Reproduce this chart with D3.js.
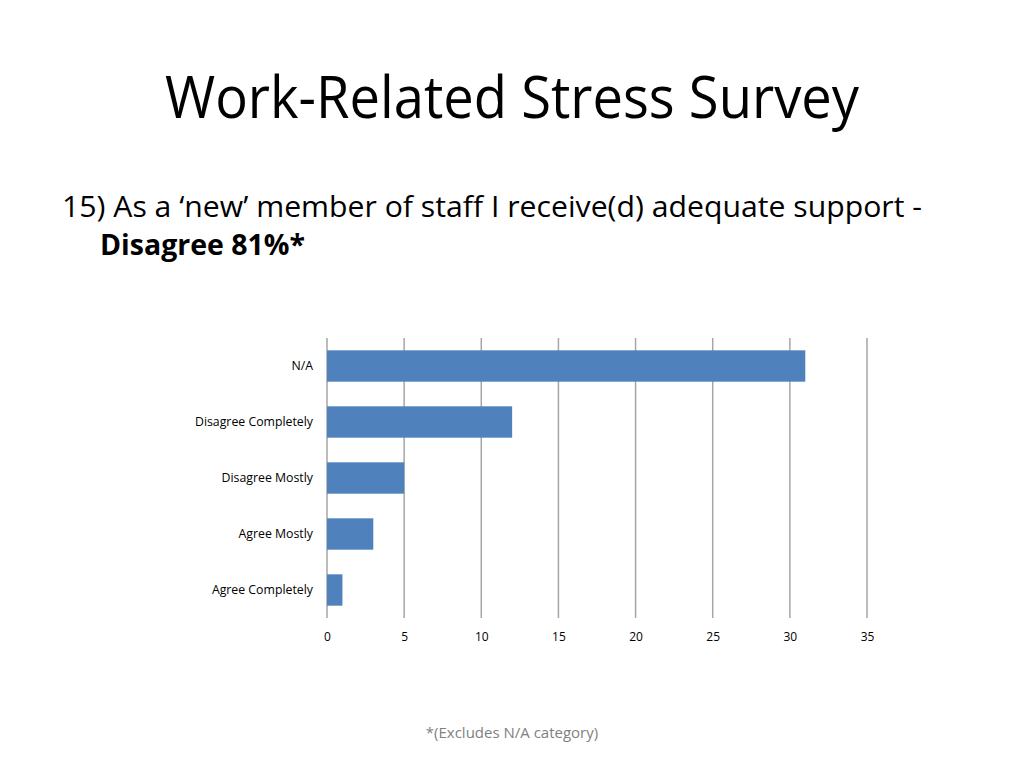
<!DOCTYPE html>
<html>
<head>
<meta charset="utf-8">
<script src="https://cdn.jsdelivr.net/npm/d3@7"></script>
<style>
	body { margin: 0; background: #fff; }
	svg text { font-family: "Open Sans", "Noto Sans", sans-serif; }
</style>
</head>
<body>
<svg id="slide" width="1024" height="768"></svg>
<script>
// chart values
var categories = ["N/A", "Disagree Completely", "Disagree Mostly", "Agree Mostly", "Agree Completely"];
var counts = [31, 12, 5, 3, 1];
var tickValues = [0, 5, 10, 15, 20, 25, 30, 35];

var svg = d3.select("svg#slide");

// slide title + question text
svg.append("text")
	.attr("x", 512).attr("y", 118)
	.attr("text-anchor", "middle")
	.attr("font-size", 58)
	.attr("textLength", 694).attr("lengthAdjust", "spacingAndGlyphs")
	.attr("fill", "#000")
	.text("Work-Related Stress Survey");

svg.append("text")
	.attr("x", 62).attr("y", 217)
	.attr("font-size", 29)
	.attr("textLength", 860).attr("lengthAdjust", "spacingAndGlyphs")
	.attr("fill", "#000")
	.text("15) As a \u2018new\u2019 member of staff I receive(d) adequate support -");

svg.append("text")
	.attr("x", 100).attr("y", 255)
	.attr("font-size", 29)
	.attr("font-weight", "bold")
	.attr("textLength", 205).attr("lengthAdjust", "spacingAndGlyphs")
	.attr("fill", "#000")
	.text("Disagree 81%*");

// plot area (don't call these top/left, window.top is read-only)
var plotLeft = 327, plotRight = 867, plotTop = 338, plotBottom = 618;

var x = d3.scaleLinear().domain([0, 35]).range([plotLeft, plotRight]);
var y = d3.scaleBand().domain(categories).range([plotTop, plotBottom]).paddingInner(0.44).paddingOuter(0.22);

var plot = svg.append("g").attr("class", "plot");

plot.selectAll("line.grid")
	.data(tickValues)
	.enter().append("line")
	.attr("class", "grid")
	.attr("x1", function(d) { return x(d); })
	.attr("x2", function(d) { return x(d); })
	.attr("y1", plotTop).attr("y2", plotBottom)
	.attr("stroke", "#a6a6a6")
	.attr("stroke-width", 1.5);

plot.selectAll("rect.bar")
	.data(counts)
	.enter().append("rect")
	.attr("class", "bar")
	.attr("x", x(0))
	.attr("y", function(d, i) { return y(categories[i]); })
	.attr("width", function(d) { return x(d) - x(0); })
	.attr("height", y.bandwidth())
	.attr("fill", "#4f81bd");

// axes, with the domain lines and ticks hidden
var xAxis = svg.append("g")
	.attr("transform", "translate(0," + (plotBottom + 12) + ")")
	.call(d3.axisBottom(x).tickValues(tickValues).tickSize(0).tickPadding(2));
xAxis.select(".domain").remove();
xAxis.selectAll("text")
	.attr("font-size", 12)
	.attr("fill", "#000")
	.style("font-family", "\"Open Sans\", sans-serif");

var yAxis = svg.append("g")
	.attr("transform", "translate(" + (plotLeft - 14) + ",0)")
	.call(d3.axisLeft(y).tickSize(0).tickPadding(0));
yAxis.select(".domain").remove();
yAxis.selectAll("text")
	.attr("font-size", 12.3)
	.attr("fill", "#000")
	.style("font-family", "\"Open Sans\", sans-serif");

svg.append("text")
	.attr("x", 512).attr("y", 738)
	.attr("text-anchor", "middle")
	.attr("font-size", 15)
	.attr("fill", "#7f7f7f")
	.text("*(Excludes N/A category)");
</script>
</body>
</html>
